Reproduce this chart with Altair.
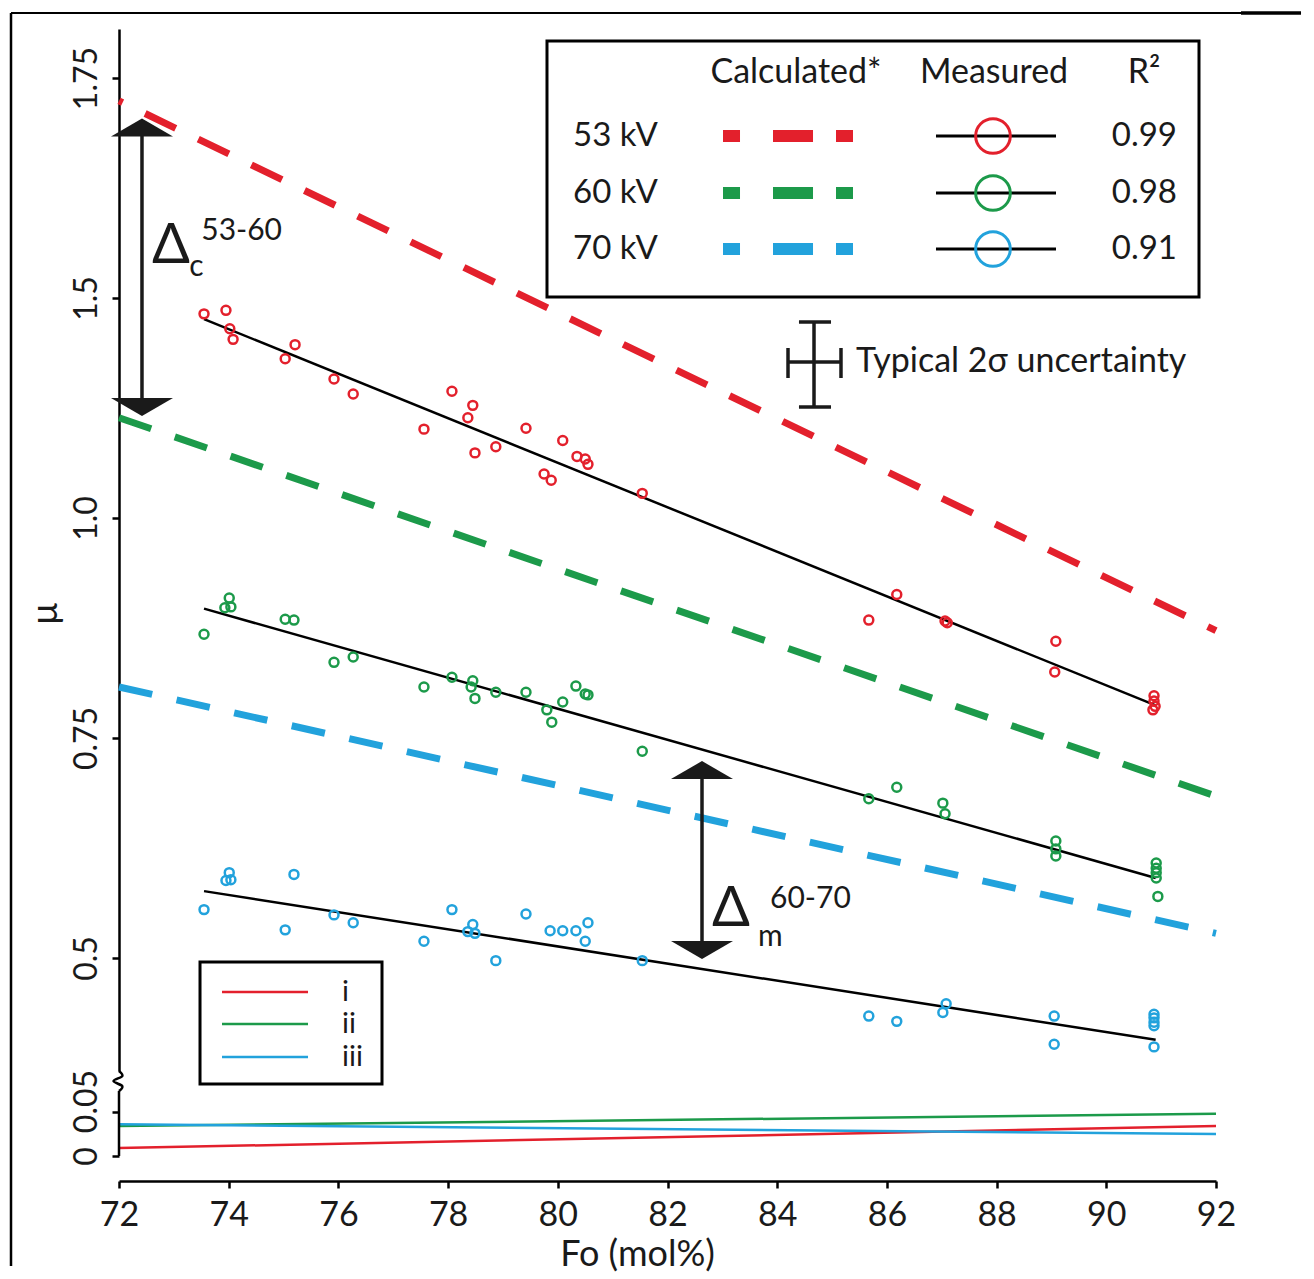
import altair as alt
import pandas as pd

FONT = "Lato"
RED, GREEN, BLUE = "#E3202C", "#1C9A4A", "#22A2DC"
SERIES = ["53 kV", "60 kV", "70 kV"]
COLORS = [RED, GREEN, BLUE]

# ---------------- data (Fo mol%, mu) ----------------
red_fo = [73.55, 73.95, 74.02, 74.08, 75.03, 75.21, 75.92, 76.27, 77.56, 78.07, 78.45, 78.36,
          78.49, 78.87, 79.42, 79.75, 79.88, 80.09, 80.35, 80.50, 80.55, 81.54, 85.67, 86.18,
          87.06, 87.10, 89.08, 89.06, 90.87, 90.87, 90.89, 90.85]
red_mu = [1.232, 1.236, 1.215, 1.203, 1.181, 1.197, 1.158, 1.141, 1.101, 1.144, 1.128, 1.114,
          1.074, 1.081, 1.102, 1.050, 1.043, 1.088, 1.070, 1.067, 1.061, 1.028, 0.884, 0.913,
          0.883, 0.881, 0.860, 0.825, 0.798, 0.792, 0.786, 0.782]
green_fo = [73.55, 74.01, 74.04, 73.93, 75.03, 75.19, 75.92, 76.27, 77.56, 78.07, 78.45, 78.42,
            78.49, 78.87, 79.42, 79.80, 79.89, 80.09, 80.33, 80.50, 80.55, 81.54, 85.67, 86.18,
            87.02, 87.06, 89.08, 89.08, 89.08, 90.91, 90.91, 90.91, 90.91, 90.94]
green_mu = [0.868, 0.909, 0.899, 0.898, 0.885, 0.884, 0.836, 0.842, 0.808, 0.819, 0.815, 0.808,
            0.795, 0.802, 0.802, 0.782, 0.768, 0.791, 0.809, 0.800, 0.799, 0.735, 0.681, 0.694,
            0.676, 0.664, 0.633, 0.624, 0.616, 0.608, 0.602, 0.597, 0.591, 0.570]
blue_fo = [73.55, 74.01, 74.04, 73.95, 75.03, 75.19, 75.92, 76.27, 77.56, 78.07, 78.45, 78.36,
           78.49, 78.87, 79.42, 79.86, 80.09, 80.33, 80.50, 80.55, 81.54, 85.67, 86.18, 87.02,
           87.08, 89.05, 89.05, 90.87, 90.87, 90.87, 90.87, 90.87]
blue_mu = [0.555, 0.597, 0.589, 0.588, 0.532, 0.595, 0.549, 0.540, 0.519, 0.555, 0.538, 0.530,
           0.528, 0.497, 0.550, 0.531, 0.531, 0.531, 0.519, 0.540, 0.497, 0.434, 0.428, 0.438,
           0.448, 0.434, 0.402, 0.436, 0.432, 0.427, 0.423, 0.399]

calc_fo = [72, 92]
calc_53 = [1.474, 0.872]
calc_60 = [1.114, 0.684]
calc_70 = [0.808, 0.528]

fit_fo = [73.55, 90.9]
fit_53 = [1.226, 0.787]
fit_60 = [0.897, 0.591]
fit_70 = [0.576, 0.407]

minor_fo = [72, 92]
minor_i = [0.009, 0.034]
minor_ii = [0.034, 0.048]
minor_iii = [0.036, 0.025]
minor_names = ["i", "ii", "iii"]

r2_values = ["0.99", "0.98", "0.91"]

ytick_vals = [0.5, 0.75, 1.0, 1.25, 1.5]
ytick_labels = ["0.5", "0.75", "1.0", "1.5", "1.75"]
ylow_vals = [0, 0.05]
ylow_labels = ["0", "0.05"]
xtick_vals = list(range(72, 93, 2))

# axis-break squiggle (Fo, mu in the lower panel's units)
break_fo = [72.0, 72.06, 71.90, 72.06, 72.0]
break_mu = [0.0966, 0.0909, 0.0852, 0.0795, 0.0739]

# ---------------- scales / axes ----------------
XS = alt.Scale(domain=[72, 92], nice=False, zero=False)
YU = alt.Scale(domain=[0.3716, 1.5557], nice=False, zero=False)
YL = alt.Scale(domain=[-0.0284, 0.0739], nice=False, zero=False)


def label_expr(vals, labels):
    e = "''"
    for v, l in zip(vals, labels):
        e = f"abs(datum.value - {v}) < 1e-6 ? '{l}' : ({e})"
    return e


AX_YU = alt.Axis(values=ytick_vals, labelExpr=label_expr(ytick_vals, ytick_labels),
                 labelAngle=-90, labelAlign="center", labelBaseline="bottom",
                 tickSize=7, labelPadding=9, labelFontSize=32, title="µ",
                 titleAngle=-90, titleX=-74, titleY=584, titleAlign="center",
                 titleBaseline="middle", titleFontSize=36, labelOverlap=False)
AX_YL = alt.Axis(values=ylow_vals, labelExpr=label_expr(ylow_vals, ylow_labels),
                 labelAngle=-90, labelAlign="center", labelBaseline="bottom",
                 labelOffset={"condition": {"test": "datum.value > 0.01", "value": -11}, "value": 0},
                 tickSize=7, labelPadding=9, labelFontSize=32, title=None, domain=False,
                 labelOverlap=False)
AX_X = alt.Axis(values=xtick_vals, tickSize=7, labelPadding=10, labelFontSize=34,
                labelFlush=False, title="Fo (mol%)", titleFontSize=36,
                titleBaseline="alphabetic", titleY=84, titleX=518, titleAlign="center",
                labelOverlap=False)

colscale = alt.Scale(domain=SERIES, range=COLORS)


def XU(f):
    return alt.X(f, type="quantitative", scale=XS, axis=None)


def YUe(f):
    return alt.Y(f, type="quantitative", scale=YU, axis=AX_YU)


def XLe(f):
    return alt.X(f, type="quantitative", scale=XS, axis=AX_X)


def YLe(f):
    return alt.Y(f, type="quantitative", scale=YL, axis=AX_YL)


W, HU, HL = 1097, 1042, 90

# ---------------- upper panel layers ----------------
calc_layers = []
for name, vals, off in zip(SERIES, [calc_53, calc_60, calc_70], [30, 0, 0]):
    df = pd.DataFrame({"fo": calc_fo, "mu": vals, "s": name})
    calc_layers.append(
        alt.Chart(df).mark_line(strokeWidth=7, strokeDash=[34, 25], strokeDashOffset=off,
                                strokeCap="butt").encode(
            x=XU("fo"), y=YUe("mu"),
            color=alt.Color("s:N", scale=colscale, legend=None)))

fit_df = pd.concat([pd.DataFrame({"fo": fit_fo, "mu": v, "s": n})
                    for n, v in zip(SERIES, [fit_53, fit_60, fit_70])])
fit_layer = alt.Chart(fit_df).mark_line(strokeWidth=2.5, color="black").encode(
    x=XU("fo"), y=YUe("mu"), detail="s:N")

meas_df = pd.concat([
    pd.DataFrame({"fo": red_fo, "mu": red_mu, "s": "53 kV"}),
    pd.DataFrame({"fo": green_fo, "mu": green_mu, "s": "60 kV"}),
    pd.DataFrame({"fo": blue_fo, "mu": blue_mu, "s": "70 kV"}),
])
meas_layer = alt.Chart(meas_df).mark_point(shape="circle", filled=False, size=80,
                                           strokeWidth=2.5, opacity=1).encode(
    x=XU("fo"), y=YUe("mu"), color=alt.Color("s:N", scale=colscale, legend=None))

# legend box (upper right)
leg_box = pd.DataFrame({"x": [79.803], "x2": [91.690], "y": [1.5420], "y2": [1.2511]})
leg_box_layer = alt.Chart(leg_box).mark_rect(fill="white", stroke="black", strokeWidth=3).encode(
    x=XU("x"), x2="x2", y=YUe("y"), y2="y2")

leg_rows_y = [1.4341, 1.3693, 1.3057]
head_df = pd.DataFrame({"x": [84.343, 87.953, 90.687], "y": [1.5057] * 3,
                        "t": ["Calculated*", "Measured", "R²"]})
head_layer = alt.Chart(head_df).mark_text(font=FONT, fontSize=34, align="center",
                                          baseline="middle", color="#1a1a1a").encode(
    x=XU("x"), y=YUe("y"), text="t:N")
rowlab_df = pd.DataFrame({"x": [80.277] * 3, "y": leg_rows_y, "t": SERIES})
rowlab_layer = alt.Chart(rowlab_df).mark_text(font=FONT, fontSize=33, align="left",
                                              baseline="middle", color="#1a1a1a").encode(
    x=XU("x"), y=YUe("y"), text="t:N")
r2_df = pd.DataFrame({"x": [91.289] * 3, "y": leg_rows_y, "t": r2_values})
r2_layer = alt.Chart(r2_df).mark_text(font=FONT, fontSize=33, align="right",
                                      baseline="middle", color="#1a1a1a").encode(
    x=XU("x"), y=YUe("y"), text="t:N")
legdash_df = pd.DataFrame({"x": [83.012] * 3, "x2": [85.382] * 3, "y": leg_rows_y, "s": SERIES})
legdash_layer = alt.Chart(legdash_df).mark_rule(strokeWidth=12, strokeDash=[17, 33, 40, 23, 17],
                                                strokeCap="butt").encode(
    x=XU("x"), x2="x2", y=YUe("y"), color=alt.Color("s:N", scale=colscale, legend=None))
legline_df = pd.DataFrame({"x": [86.895] * 3, "x2": [89.083] * 3, "y": leg_rows_y})
legline_layer = alt.Chart(legline_df).mark_rule(strokeWidth=3, color="black").encode(
    x=XU("x"), x2="x2", y=YUe("y"))
legcirc_df = pd.DataFrame({"x": [87.934] * 3, "y": leg_rows_y, "s": SERIES})
legcirc_layer = alt.Chart(legcirc_df).mark_point(shape="circle", filled=False, size=1200,
                                                 strokeWidth=3, opacity=1).encode(
    x=XU("x"), y=YUe("y"), color=alt.Color("s:N", scale=colscale, legend=None))

# small legend box (lower left)
sbox = pd.DataFrame({"x": [73.477], "x2": [76.795], "y": [0.4955], "y2": [0.3568]})
sbox_layer = alt.Chart(sbox).mark_rect(fill="white", stroke="black", strokeWidth=3).encode(
    x=XU("x"), x2="x2", y=YUe("y"), y2="y2")
s_rows_y = [0.4614, 0.4250, 0.3875]
sline_df = pd.DataFrame({"x": [73.878] * 3, "x2": [75.446] * 3, "y": s_rows_y, "s": SERIES})
sline_layer = alt.Chart(sline_df).mark_rule(strokeWidth=2.5).encode(
    x=XU("x"), x2="x2", y=YUe("y"), color=alt.Color("s:N", scale=colscale, legend=None))
slab_df = pd.DataFrame({"x": [76.066] * 3, "y": s_rows_y, "t": minor_names})
slab_layer = alt.Chart(slab_df).mark_text(font=FONT, fontSize=29, align="left",
                                          baseline="middle", color="#1a1a1a").encode(
    x=XU("x"), y=YUe("y"), text="t:N")

# uncertainty cross
cross_df = pd.DataFrame({
    "x":  [84.671, 84.397, 84.397, 84.197, 84.197, 85.163],
    "x2": [84.671, 84.981, 84.981, 85.163, 84.197, 85.163],
    "y":  [1.2227, 1.2227, 1.1261, 1.1773, 1.1932, 1.1932],
    "y2": [1.1261, 1.2227, 1.1261, 1.1773, 1.1591, 1.1591],
})
cross_layer = alt.Chart(cross_df).mark_rule(strokeWidth=3.5, color="#1a1a1a").encode(
    x=XU("x"), x2="x2", y=YUe("y"), y2="y2")
unc_df = pd.DataFrame({"x": [85.437], "y": [1.1773], "t": ["Typical 2σ uncertainty"]})
unc_layer = alt.Chart(unc_df).mark_text(font=FONT, fontSize=34, align="left",
                                        baseline="middle", color="#1a1a1a").encode(
    x=XU("x"), y=YUe("y"), text="t:N")

# double arrows
shaft_df = pd.DataFrame({"x": [72.419, 82.629], "y": [1.4341, 0.7034], "y2": [1.1364, 0.5193]})
shaft_layer = alt.Chart(shaft_df).mark_rule(strokeWidth=3.5, color="#1a1a1a").encode(
    x=XU("x"), y=YUe("y"), y2="y2")
UP = "M -1 0.29 L 0 -0.29 L 1 0.29 Z"
DOWN = "M -1 -0.29 L 0 0.29 L 1 -0.29 Z"
headu_df = pd.DataFrame({"x": [72.419, 82.629], "y": [1.4438, 0.7136]})
headd_df = pd.DataFrame({"x": [72.419, 82.629], "y": [1.1261, 0.5091]})
headu_layer = alt.Chart(headu_df).mark_point(shape=UP, filled=True, size=3844, color="#1a1a1a",
                                             opacity=1, strokeWidth=0).encode(x=XU("x"), y=YUe("y"))
headd_layer = alt.Chart(headd_df).mark_point(shape=DOWN, filled=True, size=3844, color="#1a1a1a",
                                             opacity=1, strokeWidth=0).encode(x=XU("x"), y=YUe("y"))

delta_df = pd.DataFrame({"x": [72.60, 82.81], "y": [1.2898, 0.5364], "t": ["Δ", "Δ"]})
delta_layer = alt.Chart(delta_df).mark_text(font=FONT, fontSize=56, align="left",
                                            baseline="alphabetic", color="#1a1a1a").encode(
    x=XU("x"), y=YUe("y"), text="t:N")
sub_df = pd.DataFrame({"x": [73.28, 83.65], "y": [1.275, 0.5136], "t": ["c", "m"]})
sub_layer = alt.Chart(sub_df).mark_text(font=FONT, fontSize=30, align="left",
                                        baseline="alphabetic", color="#1a1a1a").encode(
    x=XU("x"), y=YUe("y"), text="t:N")
sup_df = pd.DataFrame({"x": [73.50, 83.87], "y": [1.326, 0.567], "t": ["53-60", "60-70"]})
sup_layer = alt.Chart(sup_df).mark_text(font=FONT, fontSize=30, align="left",
                                        baseline="middle", color="#1a1a1a").encode(
    x=XU("x"), y=YUe("y"), text="t:N")

# figure frame
frame_h = pd.DataFrame({"x": [70.031, 92.456], "x2": [92.456, 93.55], "y": [1.5739, 1.5739],
                        "w": [2.0, 3.5]})
frame_h_layer = alt.Chart(frame_h).mark_rule(color="black").encode(
    x=XU("x"), x2="x2", y=YUe("y"),
    strokeWidth=alt.StrokeWidth("w:Q", scale=None, legend=None))
frame_v = pd.DataFrame({"x": [70.031], "y": [1.5739], "y2": [0.150]})
frame_v_layer = alt.Chart(frame_v).mark_rule(color="black", strokeWidth=2.5).encode(
    x=XU("x"), y=YUe("y"), y2="y2")

upper = alt.layer(
    *calc_layers, fit_layer, meas_layer,
    leg_box_layer, head_layer, rowlab_layer, r2_layer, legdash_layer, legline_layer, legcirc_layer,
    sbox_layer, sline_layer, slab_layer,
    cross_layer, unc_layer, shaft_layer, headu_layer, headd_layer,
    delta_layer, sub_layer, sup_layer,
    frame_h_layer, frame_v_layer,
).properties(width=W, height=HU)

# ---------------- lower panel ----------------
minor_df = pd.concat([pd.DataFrame({"fo": minor_fo, "mu": v, "s": n})
                      for n, v in zip(SERIES, [minor_i, minor_ii, minor_iii])])
minor_layer = alt.Chart(minor_df).mark_line(strokeWidth=2.5).encode(
    x=XLe("fo"), y=YLe("mu"), color=alt.Color("s:N", scale=colscale, legend=None))
yrule_df = pd.DataFrame({"x": [72], "y": [0], "y2": [0.0739]})
yrule_layer = alt.Chart(yrule_df).mark_rule(strokeWidth=2.5, color="black").encode(
    x=XLe("x"), y=YLe("y"), y2="y2")
brk_df = pd.DataFrame({"fo": break_fo, "mu": break_mu, "i": list(range(len(break_fo)))})
brk_layer = alt.Chart(brk_df).mark_line(strokeWidth=2.5, color="black",
                                        interpolate="cardinal").encode(
    x=XLe("fo"), y=YLe("mu"), order="i:Q")

lower = alt.layer(minor_layer, yrule_layer, brk_layer).properties(width=W, height=HL)

chart = alt.vconcat(upper, lower, spacing=20, bounds="flush").properties(
    padding={"left": 1, "top": 3, "right": 0, "bottom": 0}
).configure_view(stroke=None).configure_axis(
    domainColor="black", domainWidth=2.5, tickColor="black", tickWidth=2.5,
    labelFont=FONT, titleFont=FONT, labelColor="#1a1a1a", titleColor="#1a1a1a",
    grid=False, titleFontWeight="normal",
)

chart.save("out.html", embed_options={"renderer": "svg", "actions": False})
